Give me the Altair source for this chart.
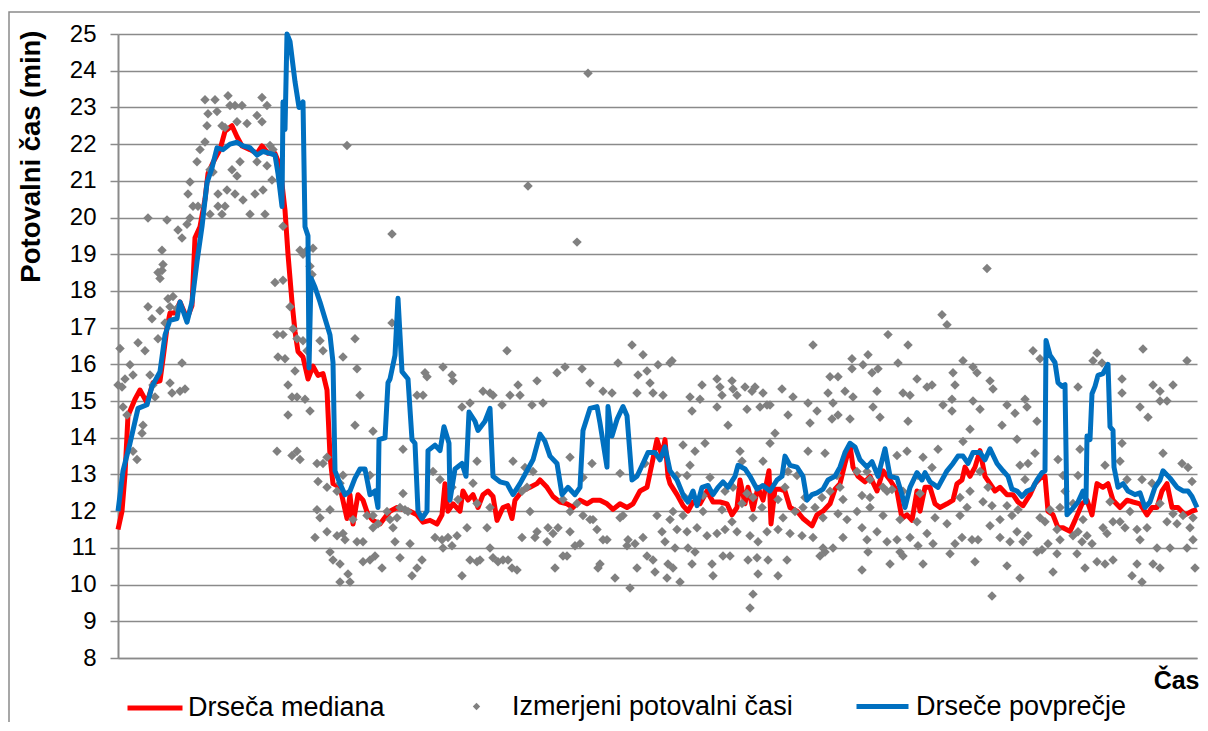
import altair as alt
import pandas as pd

FONT = "Liberation Sans"

# ---- data: (time index, minutes) ----
median_pts = [
    (0, 11.5), (4, 12.0), (7, 13.0), (10, 14.6), (17, 15.05), (22, 15.3), (29, 14.95), (35, 15.5), (42, 15.55),
    (45, 16.15), (49, 17.0), (52, 17.4), (57, 17.4), (62, 17.7), (69, 17.25), (74, 17.6), (77, 19.45), (82, 19.75),
    (87, 20.5), (90, 21.2), (95, 21.5), (102, 21.85), (107, 22.35), (114, 22.5), (119, 22.2), (124, 21.95),
    (132, 21.85), (139, 21.75), (144, 21.95), (150, 21.75), (157, 21.75), (162, 21.4), (167, 20.2), (170, 19.0),
    (174, 17.7), (177, 16.9), (180, 16.35), (185, 16.2), (190, 15.6), (195, 15.95), (200, 15.7), (205, 15.75),
    (209, 15.3), (212, 13.5), (215, 12.75), (222, 12.65), (229, 11.8), (232, 12.45), (235, 11.65), (240, 12.45),
    (245, 12.3), (250, 11.9), (255, 11.75), (262, 11.65), (269, 11.9),
    (272, 12.0), (279, 12.1), (285, 12.05), (292, 12.0), (299, 11.9), (305, 11.7), (312, 11.75), (319, 11.65),
    (324, 11.9), (327, 12.75), (330, 12.0), (335, 12.2), (342, 12.0), (345, 12.55), (350, 12.3), (355, 12.45),
    (360, 12.1), (365, 12.45), (370, 12.55), (375, 12.4), (379, 11.75), (385, 12.1), (390, 12.15), (394, 11.8),
    (397, 12.3), (404, 12.55), (412, 12.65), (419, 12.75), (422, 12.85), (429, 12.65), (435, 12.4), (442, 12.25),
    (449, 12.2), (455, 12.1), (462, 12.3), (469, 12.2), (475, 12.3), (482, 12.3), (489, 12.2), (495, 12.05),
    (502, 12.2), (509, 12.1), (515, 12.2), (522, 12.55), (529, 12.65), (534, 13.3), (539, 13.95), (544, 13.5),
    (547, 13.95), (550, 12.95),
    (552, 12.75), (559, 12.45), (565, 12.15), (570, 12.0), (575, 12.25), (582, 12.2), (589, 12.55), (595, 12.25),
    (602, 12.25), (609, 12.2), (614, 11.9), (619, 12.1), (622, 12.85), (627, 12.2), (630, 12.65), (635, 12.05),
    (640, 12.65), (645, 12.3), (651, 13.1), (653, 11.65), (657, 12.6), (662, 12.6), (667, 12.55), (672, 12.1),
    (679, 12.0), (685, 11.8), (694, 11.6), (699, 11.9), (705, 12.0), (712, 12.2), (717, 12.6), (722, 12.75),
    (727, 13.3), (732, 13.8), (735, 13.2), (740, 12.95), (747, 12.8), (752, 12.95), (759, 12.55), (765, 13.1),
    (772, 12.85), (779, 12.55), (784, 11.8), (789, 11.9), (794, 11.75), (799, 12.55), (802, 12.0), (807, 12.65),
    (812, 12.65), (817, 12.2),
    (822, 12.1), (829, 12.2), (835, 12.3), (839, 12.75), (844, 12.85), (847, 13.2), (852, 12.95), (857, 13.2),
    (862, 13.65), (867, 12.95), (872, 12.75), (877, 12.55), (882, 12.65), (889, 12.45), (895, 12.45), (900, 12.25),
    (905, 12.15), (912, 12.45), (917, 12.75), (924, 12.95), (927, 12.95), (930, 12.0), (935, 11.9), (940, 11.55),
    (945, 11.55), (952, 11.45), (957, 11.75), (964, 12.2), (969, 12.3), (974, 11.9), (979, 12.75), (985, 12.65),
    (990, 12.75), (995, 12.3), (1002, 12.1), (1009, 12.3), (1015, 12.25), (1022, 12.2), (1029, 11.9), (1034, 12.1),
    (1039, 12.1), (1044, 12.55), (1049, 12.75), (1054, 12.1), (1060, 12.1), (1067, 11.9), (1074, 12.0), (1079, 12.05),
]

mean_pts = [
    (0, 12.0), (5, 13.1), (12, 13.85), (20, 14.8), (29, 14.9), (34, 15.4), (42, 15.8), (47, 16.8), (52, 17.2),
    (59, 17.25), (62, 17.7), (69, 17.15), (74, 17.7), (79, 18.8), (84, 19.75), (89, 20.95), (94, 21.35), (99, 21.9),
    (105, 21.85), (112, 22.0), (119, 22.05), (125, 21.95), (132, 21.9), (139, 21.7), (145, 21.8), (152, 21.75),
    (157, 21.7), (160, 21.2), (164, 20.3), (165, 23.15), (167, 22.4), (169, 25.0), (172, 24.8), (177, 23.7),
    (181, 23.0), (185, 23.15), (187, 19.75), (190, 19.5), (191, 15.9), (193, 18.35), (197, 18.1), (202, 17.7),
    (207, 17.25), (212, 16.8), (215, 16.05), (217, 13.1), (222, 12.75), (227, 12.45), (232, 12.55), (237, 12.9),
    (242, 13.15), (247, 13.15), (252, 12.45), (257, 12.55), (260, 12.1), (261, 13.95), (267, 14.0), (270, 15.5),
    (272, 15.6), (277, 16.25), (280, 17.8), (284, 15.8), (290, 15.6), (294, 13.95), (297, 13.85), (300, 12.0),
    (304, 11.8), (309, 12.0), (310, 13.65), (317, 13.8), (322, 13.65), (326, 14.3), (331, 13.85), (332, 12.3),
    (337, 13.15), (344, 13.3), (348, 12.95), (351, 14.7), (357, 14.45), (360, 14.2), (367, 14.45), (372, 14.8),
    (375, 12.95), (382, 12.8), (389, 12.75), (395, 12.45), (402, 12.75), (409, 13.1), (415, 13.4), (422, 14.1),
    (427, 13.9), (432, 13.5), (439, 13.3), (444, 12.45), (450, 12.65), (457, 12.45), (462, 12.65), (465, 14.2),
    (472, 14.8), (479, 14.85), (482, 14.4), (489, 13.2), (490, 14.85), (494, 14.05), (499, 14.5), (505, 14.85),
    (509, 14.6), (514, 12.85), (519, 12.95), (525, 13.3), (530, 13.6), (537, 13.6), (542, 13.4), (547, 13.75),
    (552, 13.1),
    (559, 12.85), (565, 12.45), (570, 12.25), (575, 12.55), (579, 12.15), (584, 12.65), (590, 12.7), (595, 12.45),
    (600, 12.65), (605, 12.8), (610, 12.65), (617, 12.95), (620, 13.25), (627, 13.15), (632, 12.95), (639, 12.6),
    (645, 12.7), (652, 12.55), (659, 12.85), (664, 12.95), (667, 13.5), (672, 13.25), (679, 13.2), (685, 12.95),
    (689, 12.3), (694, 12.45), (699, 12.5), (705, 12.6), (710, 12.85), (717, 12.95), (722, 13.2), (727, 13.6),
    (732, 13.85), (737, 13.75), (742, 13.4), (749, 13.2), (754, 13.35), (760, 12.95), (767, 13.7), (772, 12.95),
    (779, 12.9), (784, 12.45), (787, 12.1), (792, 12.65), (799, 13.05), (804, 12.85), (807, 13.05), (812, 12.8),
    (820, 12.65),
    (822, 12.75), (829, 13.1), (835, 13.3), (840, 13.5), (845, 13.5), (850, 13.3), (855, 13.6), (862, 13.6),
    (867, 13.4), (872, 13.7), (879, 13.3), (885, 13.1), (890, 12.95), (894, 12.6), (899, 12.55), (904, 12.4),
    (909, 12.55), (914, 12.6), (919, 12.85), (924, 13.05), (927, 13.1), (928, 16.65), (932, 16.25), (937, 16.05),
    (940, 15.5), (944, 15.4), (947, 15.45), (949, 11.9), (954, 12.05), (960, 12.25), (965, 12.55), (968, 12.25),
    (969, 14.05), (972, 13.95), (974, 15.2), (977, 15.4), (980, 15.7), (985, 15.75), (990, 16.0), (992, 14.3),
    (995, 14.2), (996, 13.2), (1000, 12.65), (1005, 12.75), (1010, 12.55), (1017, 12.45), (1022, 12.5),
    (1027, 12.1), (1032, 12.25), (1037, 12.65), (1042, 12.85), (1045, 13.1), (1052, 12.9), (1059, 12.65),
    (1065, 12.55), (1070, 12.55), (1074, 12.4), (1079, 12.1),
]

measured_a = [
    (2, 16.43), (0, 15.44), (4, 15.38), (7, 15.6), (12, 15.99), (15, 15.71), (20, 16.59), (27, 16.37), (5, 14.84),
    (9, 14.62), (15, 13.63), (19, 13.41), (25, 14.34), (24, 14.12), (32, 15.71), (35, 15.44), (37, 15.11),
    (30, 17.57), (34, 17.24), (40, 16.7), (42, 17.46), (47, 17.13), (44, 18.56), (40, 18.5), (42, 18.34),
    (45, 18.72), (44, 19.11), (30, 19.99), (49, 19.93), (50, 17.79), (55, 17.85), (52, 17.57), (59, 17.52),
    (52, 15.49), (54, 15.22), (62, 15.27), (67, 15.33), (64, 16.04), (60, 19.66), (64, 19.44), (69, 19.82),
    (72, 19.99), (72, 20.97), (70, 20.64), (75, 20.31), (80, 20.31), (79, 21.52), (82, 21.85), (87, 22.06),
    (89, 22.5), (90, 22.83), (87, 23.21), (97, 23.21), (99, 22.89), (104, 22.5), (107, 22.45), (110, 23.32),
    (112, 23.05), (117, 23.05), (124, 23.05), (119, 22.61), (129, 22.56), (139, 22.78), (144, 22.61), (144, 23.27),
    (149, 23.05), (152, 21.96), (139, 21.52), (149, 21.41), (155, 21.85), (92, 21.3), (95, 21.24), (114, 21.3),
    (119, 21.13), (122, 21.52), (117, 20.64), (109, 20.75), (100, 20.64), (100, 20.31), (107, 20.31), (92, 20.09),
    (104, 20.09), (125, 20.48), (132, 20.09), (137, 20.64), (145, 20.75), (147, 20.09), (154, 21.02), (165, 19.76),
    (157, 18.23), (165, 18.29), (172, 17.57), (175, 16.97), (182, 19.11), (185, 19.0), (189, 19.11), (195, 19.16),
    (192, 18.67), (194, 18.45), (159, 16.81), (165, 16.81), (160, 16.2), (167, 16.15), (179, 16.7), (185, 16.64),
    (189, 16.37), (202, 16.64), (205, 16.37), (177, 15.82), (170, 15.44), (174, 15.11), (179, 15.11), (187, 15.05),
    (192, 14.73), (170, 14.62), (159, 13.63), (174, 13.52), (179, 13.63), (182, 13.41), (199, 13.3), (205, 13.3),
    (209, 13.47), (200, 12.81), (209, 12.65), (219, 12.54), (222, 12.76), (199, 12.04), (202, 11.82), (212, 12.04),
    (225, 12.98), (197, 11.28), (209, 11.44), (219, 11.33), (225, 11.39), (227, 11.22), (212, 10.89), (215, 10.67),
    (222, 10.56), (222, 10.07), (230, 10.29), (232, 10.07), (237, 16.7), (239, 15.88), (242, 15.16), (225, 16.2),
    (237, 14.34), (255, 14.18), (252, 12.98), (235, 11.77), (239, 11.17), (245, 11.17), (249, 11.88), (255, 11.88),
    (255, 11.55), (260, 11.66), (245, 10.62), (252, 10.67), (257, 10.78), (264, 10.45), (269, 11.99), (272, 11.77),
    (229, 21.96),
]

measured_b = [
    (274, 19.55), (410, 20.86), (470, 23.93), (459, 19.33), (274, 17.13), (389, 16.37), (325, 15.93), (334, 15.71),
    (307, 15.77), (309, 15.66), (335, 15.55), (299, 15.16), (305, 15.16), (344, 14.84), (352, 14.95), (365, 15.27),
    (372, 15.22), (375, 15.16), (384, 14.89), (392, 15.16), (400, 15.44), (402, 15.16), (414, 14.89), (419, 15.55),
    (425, 14.95), (439, 15.77), (447, 15.93), (464, 15.88), (472, 15.49), (485, 15.27), (494, 15.22), (500, 16.04),
    (514, 16.53), (525, 16.26), (529, 15.82), (520, 15.71), (532, 15.49), (535, 15.22), (519, 15.22), (540, 15.99),
    (545, 15.16), (552, 16.04), (285, 13.69), (395, 13.36), (407, 13.19), (415, 13.08), (452, 13.47), (465, 12.92),
    (474, 13.3), (502, 13.03), (527, 13.3), (285, 12.48), (287, 12.04), (290, 11.99), (315, 13.08), (322, 12.86),
    (334, 12.65), (355, 12.76), (340, 12.32), (359, 12.21), (372, 12.1), (275, 11.55), (277, 11.17), (282, 10.73),
    (292, 11.11), (294, 10.24), (299, 10.45), (304, 10.67), (317, 11.28), (324, 11.22), (325, 11.0), (330, 11.28),
    (334, 11.06), (339, 11.33), (344, 10.24), (349, 11.55), (352, 10.67), (359, 10.62), (362, 10.67), (369, 11.55),
    (372, 11.0), (375, 10.73), (380, 10.62), (385, 10.67), (390, 10.67), (394, 10.45), (399, 10.4), (404, 11.28),
    (412, 11.99), (417, 11.28), (419, 11.44), (429, 11.17), (430, 11.55), (435, 11.39), (437, 10.45), (440, 11.55),
    (445, 10.78), (449, 10.78), (452, 11.44), (457, 11.06), (462, 11.11), (472, 11.77), (475, 11.77), (479, 11.5),
    (480, 10.45), (482, 10.56), (485, 11.22), (489, 11.22), (497, 10.18), (502, 11.82), (505, 11.88), (509, 11.06),
    (510, 11.22), (512, 9.91), (517, 11.11), (519, 10.45), (525, 11.28), (529, 10.78), (535, 10.67), (537, 10.34),
    (539, 11.88), (544, 11.44), (547, 11.17), (549, 10.18), (550, 10.56), (452, 11.99), (459, 12.21), (465, 11.88),
    (445, 12.32), (404, 12.54), (409, 12.65), (359, 13.36), (279, 11.82), (282, 12.1),
]

measured_c = [
    (554, 16.1), (695, 16.53), (770, 16.81), (790, 16.53), (780, 16.04), (734, 16.15), (750, 16.26), (745, 15.99),
    (734, 15.88), (754, 15.77), (760, 15.88), (712, 15.66), (720, 15.66), (727, 15.27), (735, 15.11), (759, 15.27),
    (799, 15.6), (809, 15.38), (814, 15.44), (785, 15.22), (792, 15.16), (572, 15.11), (574, 14.73), (582, 15.05),
    (584, 15.44), (599, 15.6), (602, 15.38), (604, 15.16), (599, 14.84), (614, 15.55), (615, 15.33), (619, 15.16),
    (627, 15.38), (634, 15.27), (637, 15.38), (645, 15.22), (642, 14.84), (649, 14.89), (652, 14.89), (629, 14.78),
    (664, 15.33), (670, 14.62), (675, 15.11), (690, 14.95), (699, 14.73), (692, 14.4), (710, 15.22), (715, 14.95),
    (714, 14.51), (720, 14.62), (732, 14.51), (755, 14.84), (762, 14.56), (790, 14.45), (610, 14.34), (657, 14.12),
    (565, 13.8), (577, 13.63), (587, 13.85), (622, 13.63), (652, 13.85), (690, 13.63), (707, 13.58), (779, 13.52),
    (789, 13.63), (820, 13.69), (805, 13.47), (814, 13.19), (572, 13.25), (559, 12.97), (569, 12.97), (592, 12.92),
    (624, 13.36), (645, 13.36), (670, 13.08), (667, 12.65), (679, 12.97), (719, 12.97), (722, 12.65), (739, 13.08),
    (749, 13.08), (752, 12.86), (765, 12.65), (774, 12.59), (800, 12.97), (567, 12.37), (585, 12.43), (607, 12.54),
    (615, 12.65), (629, 12.48), (635, 12.37), (660, 12.32), (687, 12.37), (704, 12.37), (712, 12.54), (725, 12.32),
    (744, 12.43), (752, 12.37), (769, 12.54), (785, 12.54), (802, 12.48), (555, 11.99), (565, 11.88), (585, 11.99),
    (604, 12.04), (614, 11.71), (624, 12.21), (635, 11.82), (644, 12.1), (665, 11.82), (677, 11.99), (685, 12.1),
    (697, 12.1), (705, 11.82), (720, 11.93), (729, 11.77), (739, 11.99), (752, 12.1), (765, 11.88), (782, 11.77),
    (799, 11.71), (817, 11.82), (552, 11.77), (559, 11.5), (569, 11.44), (579, 11.55), (589, 11.33), (599, 11.39),
    (607, 11.5), (619, 11.44), (632, 11.33), (640, 11.17), (649, 11.44), (660, 11.5), (672, 11.39), (684, 11.33),
    (695, 11.28), (705, 11.0), (715, 11.0), (725, 11.28), (744, 11.55), (749, 11.22), (759, 11.44), (769, 11.17),
    (779, 11.22), (792, 11.28), (800, 11.06), (809, 11.39), (815, 11.11), (557, 11.0), (570, 11.0), (577, 10.89),
    (574, 10.56), (594, 10.56), (605, 10.78), (612, 10.78), (630, 10.67), (639, 10.73), (650, 10.67), (669, 10.67),
    (702, 10.78), (707, 10.89), (750, 10.89), (772, 10.56), (785, 10.78), (805, 10.56), (555, 10.45), (562, 10.07),
    (595, 10.24), (640, 10.29), (660, 10.24), (744, 10.4), (782, 10.89), (635, 9.74), (632, 9.36),
]

measured_d = [
    (869, 18.61), (824, 17.35), (829, 17.08), (845, 16.1), (855, 15.93), (859, 15.77), (835, 15.77), (837, 15.44),
    (834, 15.05), (825, 14.89), (834, 14.73), (855, 15.0), (862, 14.78), (872, 15.55), (875, 15.33), (889, 14.89),
    (897, 14.67), (907, 15.05), (909, 14.84), (884, 14.34), (899, 13.96), (852, 14.23), (845, 13.9), (919, 14.45),
    (915, 16.37), (922, 16.15), (979, 16.31), (984, 16.04), (975, 16.1), (960, 15.38), (1004, 15.6), (1004, 15.22),
    (1025, 16.42), (1035, 15.44), (1042, 15.27), (1055, 15.44), (1042, 15.0), (1049, 15.0), (1022, 14.84),
    (1030, 14.56), (1069, 16.1), (917, 13.58), (940, 13.41), (962, 13.69), (1004, 13.85), (1002, 13.36),
    (1045, 13.58), (1064, 13.3), (1070, 13.19), (1074, 12.81), (902, 13.25), (910, 13.3), (907, 12.86), (945, 12.97),
    (947, 12.54), (960, 12.97), (987, 13.25), (1009, 12.86), (1024, 12.86), (1034, 12.76), (862, 13.08),
    (870, 12.65), (852, 12.54), (842, 12.37), (849, 12.1), (865, 12.26), (874, 12.15), (889, 12.15), (922, 11.82),
    (932, 12.04), (942, 12.1), (955, 12.21), (965, 11.77), (992, 12.26), (1002, 11.71), (1012, 11.99),
    (1042, 12.21), (1055, 11.93), (1065, 11.88), (1075, 11.82), (829, 11.66), (842, 11.88), (872, 11.6),
    (882, 11.77), (894, 11.88), (900, 12.04), (927, 11.71), (939, 11.5), (960, 11.44), (969, 11.33), (985, 11.55),
    (995, 11.71), (1007, 11.55), (1019, 11.5), (1029, 11.55), (1049, 11.71), (1059, 11.66), (1072, 11.55),
    (837, 11.11), (844, 11.28), (854, 11.22), (860, 11.22), (882, 11.28), (892, 11.17), (899, 11.44), (905, 11.17),
    (910, 11.33), (924, 10.95), (930, 11.11), (942, 11.22), (955, 11.33), (964, 11.17), (974, 11.11), (989, 11.39),
    (1022, 11.22), (1039, 11.0), (1052, 11.0), (1069, 11.0), (1075, 11.22), (832, 10.84), (857, 10.62),
    (889, 10.51), (902, 10.18), (919, 10.89), (939, 10.84), (959, 10.84), (967, 10.45), (979, 10.62), (987, 10.56),
    (995, 10.67), (1014, 10.24), (1019, 10.56), (1024, 10.07), (1035, 10.56), (1042, 10.45), (1077, 10.45),
    (874, 9.69), (935, 10.34),
]

y_ticks = list(range(8, 26))

NAME_MED = "Drseča mediana"
NAME_PTS = "Izmerjeni potovalni časi"
NAME_AVG = "Drseče povprečje"

med_df = pd.DataFrame(median_pts, columns=["t", "v"]).assign(s=NAME_MED)
avg_df = pd.DataFrame(mean_pts, columns=["t", "v"]).assign(s=NAME_AVG)
pts_df = pd.DataFrame(measured_a + measured_b + measured_c + measured_d, columns=["t", "v"]).assign(s=NAME_PTS)

GRID = "#8a8a8a"

x_enc = alt.X(
    "t:Q",
    scale=alt.Scale(domain=[0, 1079], nice=False, zero=False),
    axis=alt.Axis(
        title="Čas", labels=False, ticks=False, grid=False,
        domainColor=GRID, domainWidth=1.5,
        titleFont=FONT, titleFontSize=25, titleFontWeight="bold", titleColor="black",
        titleX=1081, titleY=22, titleAlign="right", titleBaseline="middle",
    ),
)
y_enc = alt.Y(
    "v:Q",
    scale=alt.Scale(domain=[8, 25], nice=False, zero=False),
    axis=alt.Axis(
        values=y_ticks, format="d",
        labelFont=FONT, labelFontSize=24, labelColor="black", labelPadding=14,
        tickSize=8, tickColor=GRID, tickWidth=1.5,
        domainColor=GRID, domainWidth=2,
        gridColor=GRID, gridWidth=1.5,
        title="Potovalni čas (min)", titleFont=FONT, titleFontSize=27.5, titleFontWeight="bold",
        titleColor="black", titleAngle=-90, titleAlign="right", titleBaseline="bottom",
        titleX=-73, titleY=-4,
    ),
)

leg_common = dict(orient="none", title=None, direction="horizontal", padding=0, labelLimit=0,
                  labelFont=FONT, labelFontSize=27, labelColor="black")

frame = alt.Chart(pd.DataFrame({"k": [0]})).mark_rect(
    fillOpacity=0, stroke=GRID, strokeWidth=1.5
).encode(x=alt.value(-109), x2=alt.value(1200), y=alt.value(-22), y2=alt.value(760))

med = alt.Chart(med_df).mark_line(strokeWidth=5, strokeJoin="round").encode(
    x=x_enc, y=y_enc,
    color=alt.Color("s:N", scale=alt.Scale(domain=[NAME_MED], range=["#FF0000"]),
                    legend=alt.Legend(legendX=7, legendY=644, symbolType="stroke", symbolSize=3025,
                                      symbolStrokeWidth=5, labelOffset=3, **leg_common)),
)
pts = alt.Chart(pts_df).mark_point(shape="diamond", filled=True, size=90, opacity=1).encode(
    x=x_enc, y=y_enc,
    fill=alt.Fill("s:N", scale=alt.Scale(domain=[NAME_PTS], range=["#808080"]),
                  legend=alt.Legend(legendX=345, legendY=659, symbolType="diamond", symbolSize=55,
                                    symbolStrokeWidth=0, labelOffset=22, **leg_common)),
)
avg = alt.Chart(avg_df).mark_line(strokeWidth=5, strokeJoin="round").encode(
    x=x_enc, y=y_enc,
    stroke=alt.Stroke("s:N", scale=alt.Scale(domain=[NAME_AVG], range=["#0070C0"]),
                      legend=alt.Legend(legendX=736, legendY=644, symbolType="stroke", symbolSize=2704,
                                        symbolStrokeWidth=5, labelOffset=5, **leg_common)),
)

chart = alt.layer(frame, med, pts, avg).resolve_scale(
    color="independent", fill="independent", stroke="independent"
).properties(
    width=1079, height=624,
    padding={"left": 110, "top": 26, "right": 3, "bottom": 64},
    autosize=alt.AutoSizeParams(type="none"),
    background="white",
).configure_view(stroke=None)

chart.save("out.html", embed_options={"renderer": "svg", "actions": False})
